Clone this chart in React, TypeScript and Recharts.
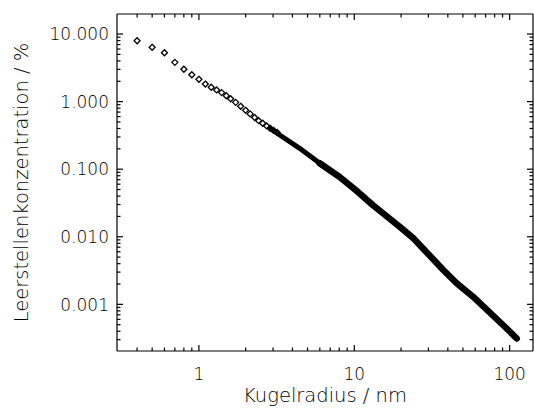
import React from 'react';
import { ComposedChart, XAxis, YAxis, Scatter, Line, Label } from 'recharts';

// Sparse (individually visible) diamond markers
const sparseRadius = [0.4, 0.5, 0.6, 0.7, 0.8, 0.9, 1.0, 1.1, 1.2, 1.3, 1.4, 1.5, 1.6, 1.723, 1.856, 1.998, 2.136, 2.284, 2.424, 2.572, 2.729, 2.874, 3.027, 3.188];
const sparseConc = [7.96, 6.36, 5.29, 3.81, 3.01, 2.5, 2.14, 1.82, 1.63, 1.49, 1.36, 1.22, 1.1, 0.976, 0.852, 0.744, 0.658, 0.582, 0.522, 0.478, 0.437, 0.404, 0.375, 0.35];

// Dense region where markers merge into a thick band
const denseRadius = [2.874, 3.31, 4.45, 5.99, 8.05, 10.2, 13.14, 19.6, 24.0, 37.4, 45.6, 58.1, 95.3, 111];
const denseConc = [0.404, 0.321, 0.2038, 0.1223, 0.0767, 0.0492, 0.0295, 0.0141, 0.0095, 0.00323, 0.00205, 0.0013, 0.000443, 0.000313];

const xMajorTicks = [1, 10, 100];
const xMajorLabels = ['1', '10', '100'];
const xMinorTicks = [0.4, 0.5, 0.6, 0.7, 0.8, 0.9, 2, 3, 4, 5, 6, 7, 8, 9, 20, 30, 40, 50, 60, 70, 80, 90];

const yMajorTicks = [0.001, 0.01, 0.1, 1, 10];
const yMajorLabels = ['0.001', '0.010', '0.100', '1.000', '10.000'];
const yMinorTicks = [
  0.0003, 0.0004, 0.0005, 0.0006, 0.0007, 0.0008, 0.0009,
  0.002, 0.003, 0.004, 0.005, 0.006, 0.007, 0.008, 0.009,
  0.02, 0.03, 0.04, 0.05, 0.06, 0.07, 0.08, 0.09,
  0.2, 0.3, 0.4, 0.5, 0.6, 0.7, 0.8, 0.9,
  2, 3, 4, 5, 6, 7, 8, 9,
];

const xDomain: [number, number] = [0.297, 141.3];
const yDomain: [number, number] = [0.000204, 19.8];

const xTitle = 'Kugelradius / nm';
const yTitle = 'Leerstellenkonzentration / %';

const FONT = "'DejaVu Sans', sans-serif";
const FONT_WEIGHT = 200;

const sparseData = sparseRadius.map((x, i) => ({ x, y: sparseConc[i] }));
const denseData = denseRadius.map((x, i) => ({ x, y: denseConc[i] }));
const denseThin = denseData.filter((d) => d.x <= 6);
const denseThick = denseData.filter((d) => d.x >= 5.99);

const xTicks = [...xMinorTicks, ...xMajorTicks].sort((a, b) => a - b);
const yTicks = [...yMinorTicks, ...yMajorTicks].sort((a, b) => a - b);

const MAJOR = 6;
const MINOR = 3.5;
const TICK_W = 1.2;

const BottomTick = (props: any) => {
  const { x, y, payload } = props;
  const idx = xMajorTicks.indexOf(payload.value);
  const major = idx >= 0;
  return (
    <g>
      <line x1={x} y1={y} x2={x} y2={y - (major ? MAJOR : MINOR)} stroke="#000" strokeWidth={TICK_W} />
      {major && (
        <text x={x} y={y + 29} textAnchor="middle" fontFamily={FONT} fontWeight={FONT_WEIGHT} fontSize={17} fill="#000">
          {xMajorLabels[idx]}
        </text>
      )}
    </g>
  );
};

const TopTick = (props: any) => {
  const { x, y, payload } = props;
  const major = xMajorTicks.indexOf(payload.value) >= 0;
  return <line x1={x} y1={y} x2={x} y2={y + (major ? MAJOR : MINOR)} stroke="#000" strokeWidth={TICK_W} />;
};

const LeftTick = (props: any) => {
  const { x, y, payload } = props;
  const idx = yMajorTicks.indexOf(payload.value);
  const major = idx >= 0;
  return (
    <g>
      <line x1={x} y1={y} x2={x + (major ? MAJOR : MINOR)} y2={y} stroke="#000" strokeWidth={TICK_W} />
      {major && (
        <text x={x - 8} y={y + 6.2} textAnchor="end" fontFamily={FONT} fontWeight={FONT_WEIGHT} fontSize={17} fill="#000">
          {yMajorLabels[idx]}
        </text>
      )}
    </g>
  );
};

const RightTick = (props: any) => {
  const { x, y, payload } = props;
  const major = yMajorTicks.indexOf(payload.value) >= 0;
  return <line x1={x} y1={y} x2={x - (major ? MAJOR : MINOR)} y2={y} stroke="#000" strokeWidth={TICK_W} />;
};

const Diamond = (props: any) => {
  const { cx, cy } = props;
  if (cx == null || cy == null) return <g />;
  const r = 3;
  return (
    <polygon
      points={`${cx},${cy - r} ${cx + r},${cy} ${cx},${cy + r} ${cx - r},${cy}`}
      fill="none"
      stroke="#000"
      strokeWidth={1.3}
    />
  );
};

const Empty = () => <g />;

export default function App() {
  return (
    <div style={{ position: 'absolute', left: 0, top: 0, background: '#fff' }}>
      <ComposedChart width={534} height={411} margin={{ top: 13, right: 0, bottom: 0, left: 0 }}>
        <XAxis
          xAxisId="bottom"
          dataKey="x"
          type="number"
          scale="log"
          domain={xDomain}
          allowDataOverflow
          ticks={xTicks}
          interval={0}
          tickSize={0}
          tickMargin={0}
          tick={<BottomTick />}
          axisLine={{ stroke: '#000', strokeWidth: 1.2 }}
          tickLine={false}
          height={60}
          orientation="bottom"
        >
          <Label
            content={(p: any) => {
              const vb = p.viewBox || {};
              return (
                <text x={vb.x + vb.width / 2} y={vb.y + 51} textAnchor="middle" fontFamily={FONT} fontWeight={FONT_WEIGHT} fontSize={19.5} fill="#000">
                  {xTitle}
                </text>
              );
            }}
          />
        </XAxis>
        <XAxis
          xAxisId="top"
          dataKey="x"
          type="number"
          scale="log"
          domain={xDomain}
          allowDataOverflow
          ticks={xTicks}
          interval={0}
          tickSize={0}
          tickMargin={0}
          tick={<TopTick />}
          axisLine={{ stroke: '#000', strokeWidth: 1.2 }}
          tickLine={false}
          height={1}
          orientation="top"
        />
        <YAxis
          yAxisId="left"
          dataKey="y"
          type="number"
          scale="log"
          domain={yDomain}
          allowDataOverflow
          ticks={yTicks}
          interval={0}
          tickSize={0}
          tickMargin={0}
          tick={<LeftTick />}
          axisLine={{ stroke: '#000', strokeWidth: 1.2 }}
          tickLine={false}
          width={117}
          orientation="left"
        >
          <Label
            content={(p: any) => {
              const vb = p.viewBox || {};
              const cx = vb.x + 21;
              const cy = vb.y + vb.height / 2;
              return (
                <text
                  x={cx}
                  y={cy}
                  transform={`rotate(-90 ${cx} ${cy})`}
                  textAnchor="middle"
                  dominantBaseline="central"
                  fontFamily={FONT}
                  fontWeight={FONT_WEIGHT}
                  fontSize={19.5}
                  fill="#000"
                >
                  {yTitle}
                </text>
              );
            }}
          />
        </YAxis>
        <YAxis
          yAxisId="right"
          dataKey="y"
          type="number"
          scale="log"
          domain={yDomain}
          allowDataOverflow
          ticks={yTicks}
          interval={0}
          tickSize={0}
          tickMargin={0}
          tick={<RightTick />}
          axisLine={{ stroke: '#000', strokeWidth: 1.2 }}
          tickLine={false}
          width={1}
          orientation="right"
        />
        <Line
          xAxisId="bottom"
          yAxisId="left"
          data={denseThin}
          dataKey="y"
          type="linear"
          stroke="#000"
          strokeWidth={5}
          strokeLinecap="round"
          strokeLinejoin="round"
          dot={false}
          activeDot={false}
          isAnimationActive={false}
        />
        <Line
          xAxisId="bottom"
          yAxisId="left"
          data={denseThick}
          dataKey="y"
          type="linear"
          stroke="#000"
          strokeWidth={6.5}
          strokeLinecap="round"
          strokeLinejoin="round"
          dot={false}
          activeDot={false}
          isAnimationActive={false}
        />
        <Scatter
          xAxisId="bottom"
          yAxisId="left"
          data={sparseData}
          dataKey="y"
          shape={<Diamond />}
          isAnimationActive={false}
        />
        <Scatter
          xAxisId="top"
          yAxisId="right"
          data={sparseData}
          dataKey="y"
          shape={<Empty />}
          isAnimationActive={false}
        />
      </ComposedChart>
    </div>
  );
}
